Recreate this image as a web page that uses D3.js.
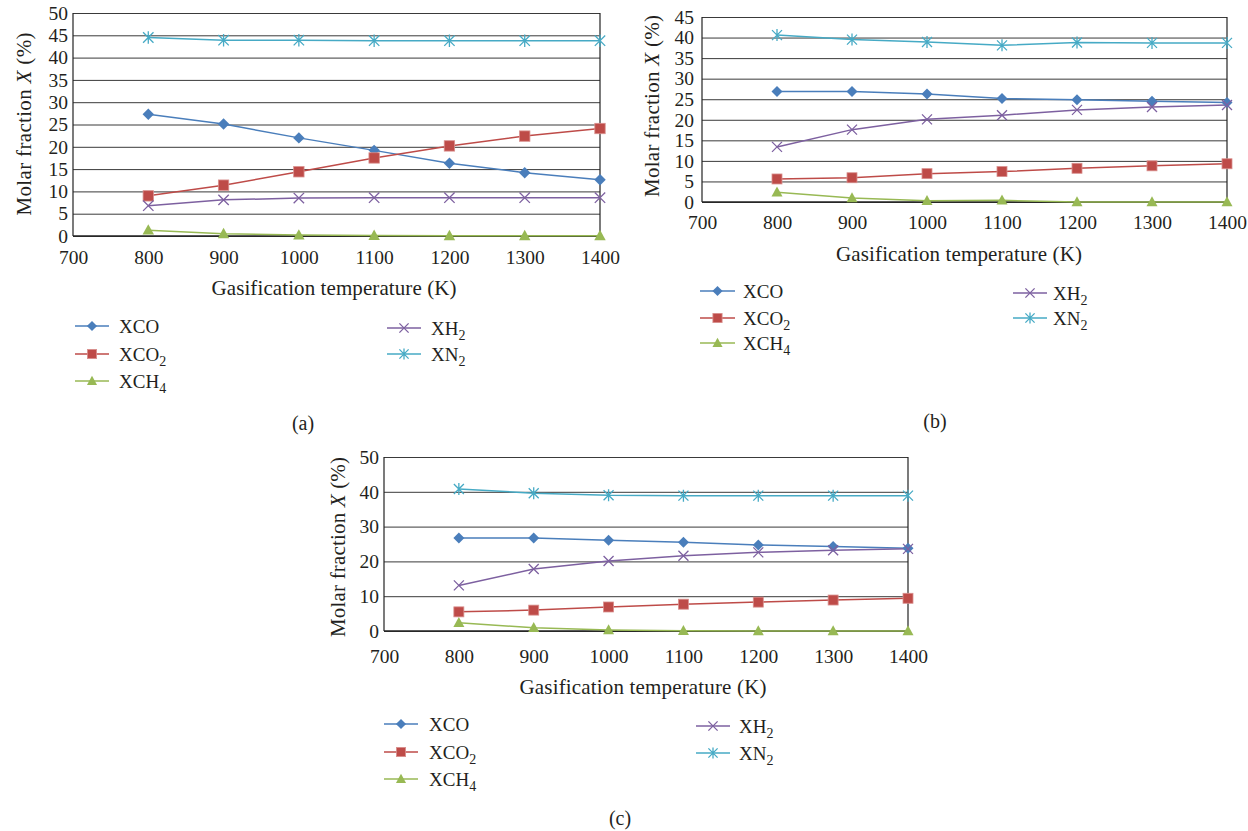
<!DOCTYPE html>
<html>
<head>
<meta charset="utf-8">
<script src="https://cdn.jsdelivr.net/npm/d3@7"></script>
<style>
  body { margin: 0; background: #fff; }
  text { font-family: "Liberation Serif", "DejaVu Serif", serif; fill: #231f20; }
</style>
</head>
<body>
<script>
// ---------- data ----------
var temps = [800, 900, 1000, 1100, 1200, 1300, 1400];
var xTicks = [700, 800, 900, 1000, 1100, 1200, 1300, 1400];

// panel (a)
var coA  = [27.3, 25.1, 22.0, 19.2, 16.3, 14.2, 12.6];
var co2A = [9.0, 11.4, 14.4, 17.5, 20.2, 22.4, 24.1];
var ch4A = [1.3, 0.5, 0.2, 0.1, 0.05, 0.05, 0.05];
var h2A  = [6.8, 8.1, 8.5, 8.6, 8.6, 8.6, 8.6];
var n2A  = [44.5, 43.9, 43.9, 43.8, 43.8, 43.8, 43.8];

// panel (b)
var coB  = [26.9, 26.9, 26.3, 25.2, 24.9, 24.5, 24.2];
var co2B = [5.6, 5.9, 6.9, 7.4, 8.2, 8.8, 9.3];
var ch4B = [2.4, 1.0, 0.3, 0.4, 0.0, 0.0, 0.0];
var h2B  = [13.4, 17.6, 20.1, 21.1, 22.4, 23.1, 23.6];
var n2B  = [40.6, 39.5, 38.9, 38.1, 38.8, 38.7, 38.7];

// panel (c)
var coC  = [26.7, 26.7, 26.1, 25.5, 24.7, 24.3, 23.8];
var co2C = [5.5, 6.0, 6.9, 7.7, 8.3, 8.9, 9.4];
var ch4C = [2.4, 0.9, 0.3, 0.05, 0.0, 0.0, 0.0];
var h2C  = [13.1, 17.8, 20.1, 21.6, 22.6, 23.2, 23.6];
var n2C  = [40.8, 39.6, 39.0, 38.9, 38.9, 38.9, 38.9];

var yTicksA = [0, 5, 10, 15, 20, 25, 30, 35, 40, 45, 50];
var yTicksB = [0, 5, 10, 15, 20, 25, 30, 35, 40, 45];
var yTicksC = [0, 10, 20, 30, 40, 50];

// series: order as drawn, legend layout
var seriesKeys = ["CO", "CO2", "CH4", "H2", "N2"];
var seriesColors = ["#4a7ebb", "#be4b48", "#98b954", "#7d60a0", "#46aac5"];
var seriesMarkers = ["diamond", "square", "triangle", "x", "star"];
var legendMain = ["XCO", "XCO", "XCH", "XH", "XN"];
var legendSub = ["", "2", "4", "2", "2"];

// ---------- layout ----------
var panels = [
  { data: [coA, co2A, ch4A, h2A, n2A], yTicks: yTicksA,
    left: 73, right: 600, top: 13, bottom: 236,
    tickPad: 5, xTickY: 257,
    xLab: { x: 334, y: 288, len: 245 },
    yLab: { x: 24, y: 124, len: 183 },
    mk: 5.2,
    legL: { x1: 75, x2: 109, tx: 119, ys: [326, 354, 381] },
    legR: { x1: 387, x2: 421, tx: 431, ys: [328, 354] },
    cap: { t: "(a)", x: 303, y: 423 } },
  { data: [coB, co2B, ch4B, h2B, n2B], yTicks: yTicksB,
    left: 702, right: 1227, top: 17, bottom: 202,
    tickPad: 8, xTickY: 222,
    xLab: { x: 959, y: 254, len: 246 },
    yLab: { x: 652, y: 106, len: 182 },
    mk: 5,
    legL: { x1: 700, x2: 735, tx: 743, ys: [291, 318, 343] },
    legR: { x1: 1013, x2: 1047, tx: 1053, ys: [293, 318] },
    cap: { t: "(b)", x: 935, y: 421 } },
  { data: [coC, co2C, ch4C, h2C, n2C], yTicks: yTicksC,
    left: 384, right: 908, top: 457, bottom: 631,
    tickPad: 5, xTickY: 656,
    xLab: { x: 643, y: 687, len: 247 },
    yLab: { x: 338, y: 547, len: 180 },
    mk: 5,
    legL: { x1: 384, x2: 418, tx: 429, ys: [724, 752, 779] },
    legR: { x1: 696, x2: 730, tx: 739, ys: [726, 753] },
    cap: { t: "(c)", x: 620, y: 818 } }
];

var tickFont = 19.5;
var titleFont = 21;
var legendFont = 19;

var svg = d3.select("body").append("svg")
    .attr("width", 1248)
    .attr("height", 831);

function drawMarker(g, kind, color, s) {
  if (kind === "diamond") {
    g.append("path").attr("d", "M0," + (-s * 1.1) + "L" + s * 1.1 + ",0L0," + s * 1.1 + "L" + (-s * 1.1) + ",0Z")
      .attr("fill", color);
  } else if (kind === "square") {
    g.append("rect").attr("x", -s).attr("y", -s).attr("width", 2 * s).attr("height", 2 * s)
      .attr("fill", color).attr("stroke", "#d9908e").attr("stroke-width", 0.8);
  } else if (kind === "triangle") {
    g.append("path").attr("d", "M0," + (-s * 1.15) + "L" + s * 1.1 + "," + s * 0.85 + "L" + (-s * 1.1) + "," + s * 0.85 + "Z")
      .attr("fill", color);
  } else if (kind === "x") {
    g.append("path").attr("d", "M" + (-s) + "," + (-s) + "L" + s + "," + s + "M" + (-s) + "," + s + "L" + s + "," + (-s))
      .attr("stroke", color).attr("stroke-width", 1.3).attr("fill", "none");
  } else {
    g.append("path").attr("d", "M" + (-s) + "," + (-s) + "L" + s + "," + s + "M" + (-s) + "," + s + "L" + s + "," + (-s) +
        "M0," + (-s * 1.2) + "L0," + s * 1.2)
      .attr("stroke", color).attr("stroke-width", 1.3).attr("fill", "none");
  }
}

panels.forEach(function(p) {
  var w = p.right - p.left;
  var yMax = p.yTicks[p.yTicks.length - 1];

  var xScale = d3.scaleLinear().domain([700, 1400]).range([p.left, p.right]);
  var yScale = d3.scaleLinear().domain([0, yMax]).range([p.bottom, p.top]);

  // gridlines + y tick labels
  var yAxis = d3.axisLeft(yScale)
      .tickValues(p.yTicks)
      .tickSize(-w)
      .tickPadding(p.tickPad)
      .tickFormat(d3.format("d"));
  var gy = svg.append("g")
      .attr("transform", "translate(" + p.left + ",0)")
      .call(yAxis);
  gy.select(".domain").remove();
  gy.selectAll(".tick line").attr("stroke", "#3a3a3a").attr("stroke-width", 1);
  gy.selectAll(".tick text")
      .attr("font-size", tickFont)
      .attr("font-family", "Liberation Serif")
      .attr("fill", "#231f20");

  // x tick labels
  var xAxis = d3.axisBottom(xScale)
      .tickValues(xTicks)
      .tickSize(0)
      .tickPadding(0)
      .tickFormat(d3.format("d"));
  var gx = svg.append("g")
      .attr("transform", "translate(0," + p.bottom + ")")
      .call(xAxis);
  gx.select(".domain").remove();
  gx.selectAll(".tick text")
      .attr("y", p.xTickY - p.bottom)
      .attr("dy", "0.35em")
      .attr("font-size", tickFont)
      .attr("font-family", "Liberation Serif")
      .attr("fill", "#231f20");

  // frame
  svg.append("line").attr("x1", p.left).attr("x2", p.left).attr("y1", p.top).attr("y2", p.bottom)
     .attr("stroke", "#222").attr("stroke-width", 1.2);
  svg.append("line").attr("x1", p.right).attr("x2", p.right).attr("y1", p.top).attr("y2", p.bottom)
     .attr("stroke", "#222").attr("stroke-width", 1.2);
  svg.append("line").attr("x1", p.left).attr("x2", p.right).attr("y1", p.bottom).attr("y2", p.bottom)
     .attr("stroke", "#222").attr("stroke-width", 1.4);

  // series
  var line = d3.line()
      .x(function(d, i) { return xScale(temps[i]); })
      .y(function(d) { return yScale(d); });

  p.data.forEach(function(vals, k) {
    svg.append("path")
       .attr("d", line(vals))
       .attr("fill", "none")
       .attr("stroke", seriesColors[k])
       .attr("stroke-width", 1.5);
  });
  p.data.forEach(function(vals, k) {
    vals.forEach(function(v, i) {
      var g = svg.append("g").attr("transform", "translate(" + xScale(temps[i]) + "," + yScale(v) + ")");
      drawMarker(g, seriesMarkers[k], seriesColors[k], p.mk);
    });
  });

  // axis titles
  svg.append("text")
     .attr("x", p.xLab.x).attr("y", p.xLab.y).attr("dy", "0.35em")
     .attr("text-anchor", "middle")
     .attr("font-size", titleFont)
     .attr("textLength", p.xLab.len)
     .text("Gasification temperature (K)");

  var yl = svg.append("text")
     .attr("transform", "translate(" + p.yLab.x + "," + p.yLab.y + ") rotate(-90)")
     .attr("dy", "0.35em")
     .attr("text-anchor", "middle")
     .attr("font-size", titleFont)
     .attr("textLength", p.yLab.len);
  yl.append("tspan").text("Molar fraction ");
  yl.append("tspan").attr("font-style", "italic").text("X");
  yl.append("tspan").text(" (%)");

  // legend
  seriesKeys.forEach(function(key, k) {
    var col = k < 3 ? p.legL : p.legR;
    var yy = col.ys[k < 3 ? k : k - 3];
    svg.append("line")
       .attr("x1", col.x1).attr("x2", col.x2).attr("y1", yy).attr("y2", yy)
       .attr("stroke", seriesColors[k]).attr("stroke-width", 1.5);
    var g = svg.append("g").attr("transform", "translate(" + (col.x1 + col.x2) / 2 + "," + yy + ")");
    drawMarker(g, seriesMarkers[k], seriesColors[k], 4.6);
    var t = svg.append("text")
       .attr("x", col.tx).attr("y", yy).attr("dy", "0.35em")
       .attr("font-size", legendFont);
    t.append("tspan").text(legendMain[k]);
    if (legendSub[k]) {
      t.append("tspan").attr("font-size", 14).attr("dy", 5).text(legendSub[k]);
    }
  });

  // caption
  svg.append("text")
     .attr("x", p.cap.x).attr("y", p.cap.y).attr("dy", "0.35em")
     .attr("text-anchor", "middle")
     .attr("font-size", 20)
     .text(p.cap.t);
});
</script>
</body>
</html>
